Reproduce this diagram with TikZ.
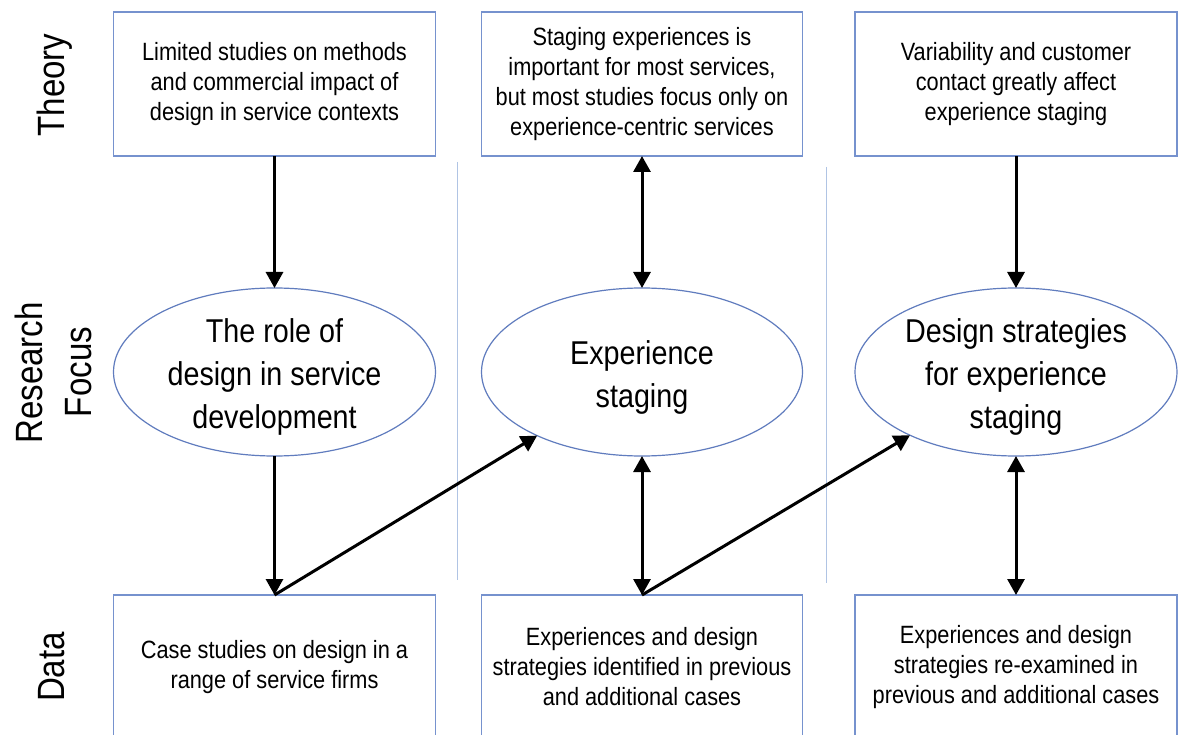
\documentclass[tikz,border=0pt]{standalone}
\usepackage{fontspec}
\setmainfont{Liberation Sans}[FakeStretch=0.87]
\usetikzlibrary{shapes.geometric,arrows.meta}
\definecolor{boxblue}{RGB}{118,146,206}
\definecolor{ellblue}{RGB}{96,124,190}
\definecolor{divblue}{RGB}{176,196,228}
\begin{document}
\begin{tikzpicture}[x=1pt,y=-1pt,
  box/.style={draw=boxblue, line width=1.2pt, minimum width=322pt, minimum height=144pt,
    inner sep=0pt, outer sep=0pt, align=center, font=\fontsize{25}{30}\selectfont},
  ell/.style={ellipse, draw=ellblue, line width=1.2pt, minimum width=322pt, minimum height=168pt,
    inner sep=0pt, outer sep=0pt},
  elltext/.style={align=center, font=\fontsize{33}{43}\selectfont, yshift=-5pt},
  side/.style={rotate=90, anchor=base, font=\fontsize{38}{49}\selectfont, inner sep=0pt},
  arr/.style={line width=3pt, -{Triangle[width=17pt,length=16pt]}},
  darr/.style={line width=3pt, {Triangle[width=17pt,length=16pt]}-{Triangle[width=17pt,length=16pt]}},
  divider/.style={draw=divblue, line width=1pt}]
\useasboundingbox (0,0) rectangle (1178,735);
\clip (0,0) rectangle (1178,735);
\fill[white] (0,0) rectangle (1178,735);

% side labels
\node[side] (lt) at (64,85) {Theory};
\node[side] (lr) at (42,373) {Research};
\node[side] (lf) at (91,372) {Focus};
\node[side] (ld) at (64,667) {Data};

% dividers
\coordinate (v1a) at (457.5,162);
\coordinate (v1b) at (457.5,580);
\coordinate (v2a) at (826.5,167);
\coordinate (v2b) at (826.5,583);
\draw[divider] (v1a) -- (v1b);
\draw[divider] (v2a) -- (v2b);

% theory boxes
\node[box] (t1) at (274.5,84) {Limited studies on methods\\and commercial impact of\\design in service contexts};
\node[box, minimum width=321pt] (t2) at (642,84) {Staging experiences is\\important for most services,\\but most studies focus only on\\experience-centric services};
\node[box] (t3) at (1016,84) {\raisebox{0pt}[\height][\depth]{}Variability and customer\\contact greatly affect\\experience staging};

% research focus ellipses
\node[ell, label={[elltext]center:{The role of\\design in service\\development}}] (e1) at (274.5,372) {};
\node[ell, minimum width=321pt, label={[elltext]center:{Experience\\staging}}] (e2) at (642,372) {};
\node[ell, label={[elltext]center:{Design strategies\\for experience\\staging}}] (e3) at (1016,372) {};

% data boxes
\node[box] (d1) at (274.5,667) {Case studies on design in a\\range of service firms};
\node[box, minimum width=321pt] (d2) at (642,667) {Experiences and design\\strategies identified in previous\\and additional cases};
\node[box] (d3) at (1016,667) {Experiences and design\\strategies re-examined in\\previous and additional cases};

% connectors
\draw[arr] (t1) -- (e1);
\draw[darr] (t2) -- (e2);
\draw[arr] (t3) -- (e3);
\draw[arr] (e1) -- (d1);
\draw[arr] (d1.north) -- (e2);
\draw[darr] (e2) -- (d2);
\draw[arr] (d2.north) -- (e3);
\draw[darr] (e3) -- (d3);
\end{tikzpicture}
\end{document}
